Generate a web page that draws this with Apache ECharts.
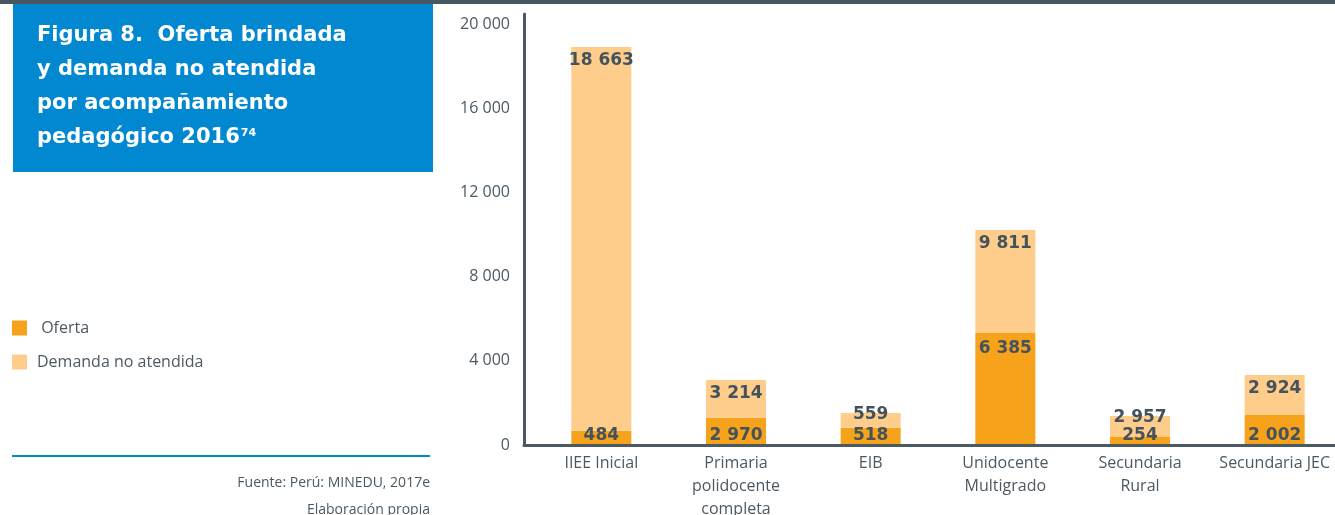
<!DOCTYPE html>
<html lang="es">
<head>
<meta charset="utf-8">
<title>Oferta brindada y demanda no atendida</title>
<script src="https://cdn.jsdelivr.net/npm/echarts@6/dist/echarts.min.js"></script>
<style>
  html, body { margin: 0; padding: 0; background: #fff; }
  #chart { width: 1335px; height: 515px; }
</style>
</head>
<body>
<div id="chart"></div>
<script>
// categorías del eje x
const categorias = ['IIEE Inicial', 'Primaria\npolidocente\ncompleta', 'EIB', 'Unidocente\nMultigrado', 'Secundaria\nRural', 'Secundaria JEC']
// altura de los tramos tal como se dibujan en la figura
const ofertaAltura = [680, 1300, 820, 5320, 380, 1425]
const demandaAltura = [18230, 1790, 700, 4890, 1000, 1900]
// cifras impresas sobre las barras
const ofertaEtiqueta = [484, 2970, 518, 6385, 254, 2002]
const demandaEtiqueta = [18663, 3214, 559, 9811, 2957, 2924]
// eje y
const yMin = 0
const yMax = 20475
const yPaso = 4000

const gris = '#4b5963'
const fuente = '"Open Sans", sans-serif'
const fuenteNegrita = '"DejaVu Sans", sans-serif'

const miles = n => String(n).replace(/\B(?=(\d{3})+(?!\d))/g, ' ')

const chart = echarts.init(document.getElementById('chart'))

const etiquetaBase = {
  show: true,
  color: '#44525c',
  fontFamily: fuenteNegrita,
  fontWeight: 'bold',
  fontSize: 17,
}

chart.setOption({
  animation: false,
  title: [
    {
      left: 37,
      top: 19,
      padding: 0,
      text: '{t|Figura 8.  Oferta brindada}\n{t|y demanda no atendida}\n{t|por acompañamiento}\n{t|pedagógico 2016}{s|74}',
      textStyle: {
        rich: {
          t: { color: '#fff', fontFamily: fuenteNegrita, fontWeight: 'bold', fontSize: 21, lineHeight: 34 },
          s: { color: '#fff', fontFamily: fuenteNegrita, fontWeight: 'bold', fontSize: 11, lineHeight: 12, verticalAlign: 'top', padding: [7, 0, 0, 1] },
        },
      },
    },
    {
      text: 'Fuente: Perú: MINEDU, 2017e',
      right: 905,
      top: 476,
      padding: 0,
      textStyle: { color: gris, fontFamily: fuente, fontWeight: 'normal', fontSize: 14 },
    },
    {
      text: 'Elaboración propia',
      right: 905,
      top: 503,
      padding: 0,
      textStyle: { color: gris, fontFamily: fuente, fontWeight: 'normal', fontSize: 14 },
    },
  ],
  graphic: [
    { type: 'rect', left: 0, top: 0, shape: { width: 1335, height: 4 }, style: { fill: '#465761' }, z: -1 },
    { type: 'rect', left: 13, top: 4, shape: { width: 420, height: 168 }, style: { fill: '#0288d1' }, z: -1 },
    { type: 'rect', left: 12, top: 455, shape: { width: 418, height: 2 }, style: { fill: '#0288d1' } },
  ],
  legend: {
    orient: 'vertical',
    left: 12,
    top: 320,
    padding: 0,
    itemWidth: 15,
    itemHeight: 15,
    itemGap: 18,
    icon: 'rect',
    formatter: name => (name === 'Oferta' ? ' ' + name : name),
    textStyle: { color: gris, fontFamily: fuente, fontSize: 16, padding: [0, 0, 0, 5] },
    data: ['Oferta', 'Demanda no atendida'],
  },
  grid: [
    { left: 534, width: 808, top: 14, bottom: 70, outerBoundsMode: 'none', containLabel: false },
    { left: 524, right: 0, top: 14, bottom: 70, outerBoundsMode: 'none', containLabel: false },
  ],
  xAxis: [
    {
      type: 'category',
      gridIndex: 0,
      data: categorias,
      axisLine: { show: false },
      axisTick: { show: false },
      axisLabel: { interval: 0, color: gris, fontFamily: fuente, fontSize: 16, lineHeight: 23, margin: 7 },
    },
    {
      type: 'value',
      gridIndex: 1,
      z: 5,
      axisLine: { show: true, lineStyle: { color: gris, width: 3 } },
      axisTick: { show: false },
      axisLabel: { show: false },
      splitLine: { show: false },
    },
  ],
  yAxis: [
    {
      type: 'value',
      gridIndex: 0,
      min: yMin,
      max: yMax,
      interval: yPaso,
      offset: 10,
      axisLine: { show: true, lineStyle: { color: gris, width: 3 } },
      axisTick: { show: false },
      splitLine: { show: false },
      axisLabel: {
        color: gris,
        fontFamily: fuente,
        fontSize: 16,
        margin: 14,
        showMaxLabel: false,
        formatter: v => miles(v),
      },
    },
    { type: 'value', gridIndex: 1, show: false },
  ],
  series: [
    {
      name: 'Oferta',
      type: 'bar',
      stack: 'total',
      barWidth: 60,
      itemStyle: { color: '#f7a21b' },
      data: ofertaAltura.map((v, i) => ({
        value: v,
        label: {
          ...etiquetaBase,
          position: v > 3000 ? 'insideTop' : 'insideBottom',
          distance: v > 3000 ? 7 : 1,
          formatter: () => miles(ofertaEtiqueta[i]),
        },
      })),
    },
    {
      name: 'Demanda no atendida',
      type: 'bar',
      stack: 'total',
      barWidth: 60,
      itemStyle: { color: '#fecd8c' },
      data: demandaAltura.map((v, i) => ({
        value: v,
        label: {
          ...etiquetaBase,
          position: 'insideTop',
          distance: v < 1200 ? -7 : 5,
          formatter: () => miles(demandaEtiqueta[i]),
        },
      })),
    },
  ],
})
</script>
</body>
</html>
